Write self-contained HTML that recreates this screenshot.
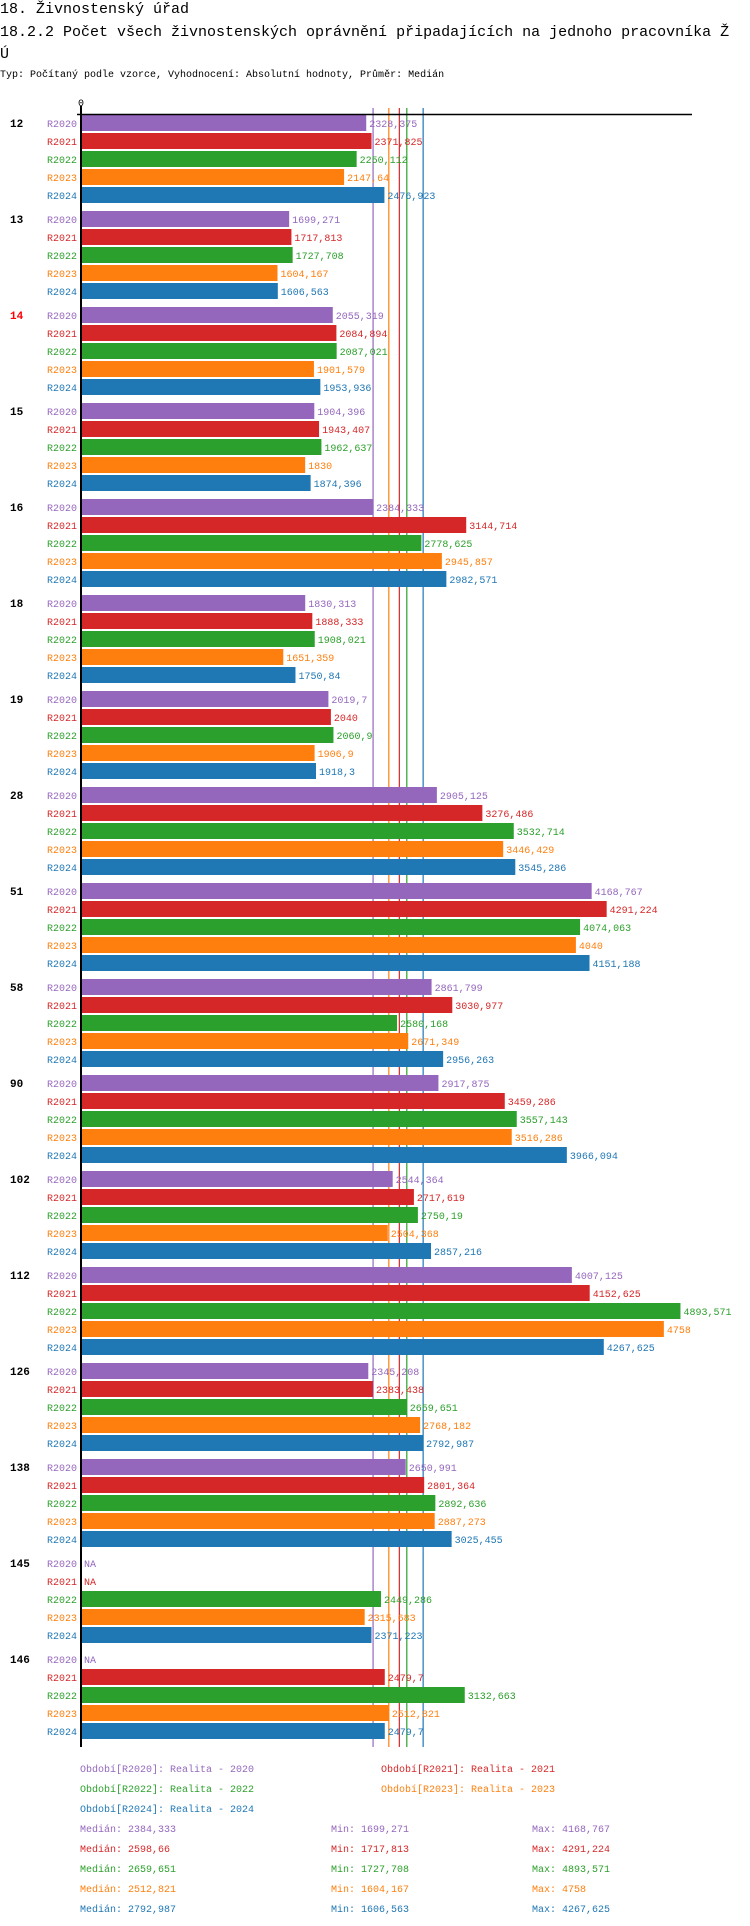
<!DOCTYPE html>
<html><head><meta charset="utf-8"><style>
html,body{margin:0;padding:0;background:#fff;width:750px;height:1926px;overflow:hidden}
svg{display:block}
text{font-family:"Liberation Mono",monospace}
</style></head><body>
<svg id="chart" width="750" height="1926" viewBox="0 0 750 1926">
<text x="0" y="13" font-size="15" fill="#000">18. Živnostenský úřad</text>
<text x="0" y="36" font-size="15" fill="#000">18.2.2 Počet všech živnostenských oprávnění připadajících na jednoho pracovníka Ž</text>
<text x="0" y="58" font-size="15" fill="#000">Ú</text>
<text x="0" y="77" font-size="10" fill="#000">Typ: Počítaný podle vzorce, Vyhodnocení: Absolutní hodnoty, Průměr: Medián</text>
<g id="medians"></g><g id="bars"></g><g id="axis"></g><g id="legend"></g>
</svg>
<script>
const groups = ["12","13","14","15","16","18","19","28","51","58","90","102","112","126","138","145","146"];
const series = ["R2020","R2021","R2022","R2023","R2024"];
const colors = ["#9467bd","#d62728","#2ca02c","#ff7f0e","#1f77b4"];
const r2020 = [2328.375,1699.271,2055.319,1904.396,2384.333,1830.313,2019.7,2905.125,4168.767,2861.799,2917.875,2544.364,4007.125,2345.208,2650.991,null,null];
const r2021 = [2371.825,1717.813,2084.894,1943.407,3144.714,1888.333,2040,3276.486,4291.224,3030.977,3459.286,2717.619,4152.625,2383.438,2801.364,null,2479.7];
const r2022 = [2250.112,1727.708,2087.021,1962.637,2778.625,1908.021,2060.9,3532.714,4074.063,2580.168,3557.143,2750.19,4893.571,2659.651,2892.636,2449.286,3132.663];
const r2023 = [2147.64,1604.167,1901.579,1830,2945.857,1651.359,1906.9,3446.429,4040,2671.349,3516.286,2504.368,4758,2768.182,2887.273,2315.683,2512.821];
const r2024 = [2476.923,1606.563,1953.936,1874.396,2982.571,1750.84,1918.3,3545.286,4151.188,2956.263,3966.094,2857.216,4267.625,2792.987,3025.455,2371.223,2479.7];
const medians = [2384.333,2598.66,2659.651,2512.821,2792.987];
const mins = [1699.271,1717.813,1727.708,1604.167,1606.563];
const maxs = [4168.767,4291.224,4893.571,4758,4267.625];
const highlightGroup = "14";

const values = [r2020,r2021,r2022,r2023,r2024];
const NS = "http://www.w3.org/2000/svg";
const X0 = 81, K = 0.1225, Y0 = 115, GROUP_H = 96, ROW_H = 18, BAR_H = 16, AXIS_BOTTOM = 1747;
function xs(v){ return X0 + v*K; }
function ys(g,s){ return Y0 + g*GROUP_H + s*ROW_H; }
function fmt(v){ return String(v).replace('.',','); }
function mk(tag, attrs, parent, txt){
  const e = document.createElementNS(NS, tag);
  for (const k in attrs) e.setAttribute(k, attrs[k]);
  if (txt !== undefined) e.textContent = txt;
  parent.appendChild(e); return e;
}
const gMed = document.getElementById('medians'), gBars = document.getElementById('bars'),
      gAxis = document.getElementById('axis'), gLeg = document.getElementById('legend');

medians.forEach((m,i)=>{
  const l = mk('line',{x1:xs(m),x2:xs(m),y1:108,y2:AXIS_BOTTOM,stroke:colors[i],'stroke-width':1.2},gMed);
  
  
});

groups.forEach((g,gi)=>{
  const gl = mk('text',{x:10,y:ys(gi,0)+12,'font-size':11,'font-weight':'bold',fill:g===highlightGroup?'#ff0000':'#000'},gBars,g);
  
  
  series.forEach((s,si)=>{
    const y = ys(gi,si);
    const sl = mk('text',{x:77,y:y+12,'font-size':10,'text-anchor':'end',fill:colors[si]},gBars,s);
    
    
    const v = values[si][gi];
    if (v === null) {
      const na = mk('text',{x:X0+3,y:y+12,'font-size':10,fill:colors[si]},gBars,'NA');
      
      
      return;
    }
    const r = mk('rect',{x:X0,y:y,width:xs(v)-X0,height:BAR_H,fill:colors[si]},gBars);
    
    
    const t = mk('text',{x:xs(v)+3,y:y+12,'font-size':10,fill:colors[si]},gBars,fmt(v));
    
    
  });
});

const ax = mk('line',{x1:X0,x2:X0,y1:106,y2:AXIS_BOTTOM,stroke:'#000','stroke-width':2},gAxis);


const tx = mk('line',{x1:77,x2:692,y1:114.5,y2:114.5,stroke:'#000','stroke-width':1.5},gAxis);


const zl = mk('text',{x:X0,y:106,'font-size':10,'text-anchor':'middle',fill:'#000'},gAxis,'0');



const legPos = [[80,1772],[381,1772],[80,1792],[381,1792],[80,1812]];
series.forEach((s,i)=>{
  const t = mk('text',{x:legPos[i][0],y:legPos[i][1],'font-size':10,fill:colors[i]},gLeg,'Období['+s+']: Realita - '+s.slice(1));
  
  
  const y = 1832 + i*20;
  const a = mk('text',{x:80,y:y,'font-size':10,fill:colors[i]},gLeg,'Medián: '+fmt(medians[i]));
  
  
  const b = mk('text',{x:331,y:y,'font-size':10,fill:colors[i]},gLeg,'Min: '+fmt(mins[i]));
  
  
  const c = mk('text',{x:532,y:y,'font-size':10,fill:colors[i]},gLeg,'Max: '+fmt(maxs[i]));
  
  
});
</script>
</body></html>
